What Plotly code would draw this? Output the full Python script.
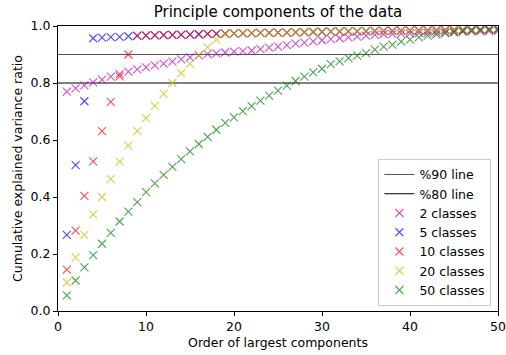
import plotly.graph_objects as go

x_components = list(range(1, 51))

thresholds = [0.9, 0.8]
threshold_names = ["%90 line", "%80 line"]
threshold_colors = ["#555555", "#000000"]

classes_2 = [0.770, 0.781, 0.792, 0.802, 0.812, 0.822, 0.831, 0.840, 0.848, 0.855,
             0.862, 0.868, 0.875, 0.883, 0.890, 0.897, 0.901, 0.904, 0.907, 0.910,
             0.912, 0.914, 0.919, 0.924, 0.928, 0.933, 0.938, 0.942, 0.946, 0.950,
             0.954, 0.957, 0.960, 0.963, 0.966, 0.969, 0.971, 0.972, 0.973, 0.974,
             0.975, 0.976, 0.977, 0.978, 0.979, 0.980, 0.981, 0.981, 0.982, 0.983]

classes_5 = [0.267, 0.512, 0.736, 0.957, 0.959, 0.961, 0.962, 0.964, 0.965, 0.966,
             0.967, 0.968, 0.969, 0.969, 0.970, 0.971, 0.972, 0.972, 0.973, 0.974,
             0.974, 0.975, 0.976, 0.976, 0.977, 0.977, 0.978, 0.978, 0.979, 0.979,
             0.980, 0.980, 0.981, 0.981, 0.982, 0.982, 0.983, 0.983, 0.984, 0.984,
             0.985, 0.985, 0.985, 0.986, 0.986, 0.986, 0.987, 0.987, 0.987, 0.988]

classes_10 = [0.145, 0.282, 0.404, 0.525, 0.631, 0.734, 0.823, 0.900, 0.966, 0.967,
              0.968, 0.968, 0.969, 0.970, 0.970, 0.971, 0.972, 0.973, 0.973, 0.974,
              0.975, 0.975, 0.976, 0.976, 0.977, 0.977, 0.978, 0.979, 0.979, 0.980,
              0.980, 0.981, 0.981, 0.982, 0.982, 0.983, 0.983, 0.984, 0.984, 0.985,
              0.985, 0.985, 0.986, 0.986, 0.986, 0.987, 0.987, 0.987, 0.988, 0.988]

classes_20 = [0.100, 0.188, 0.267, 0.339, 0.400, 0.463, 0.524, 0.580, 0.631, 0.677,
              0.720, 0.762, 0.800, 0.835, 0.868, 0.899, 0.926, 0.952, 0.971, 0.974,
              0.975, 0.975, 0.976, 0.977, 0.977, 0.978, 0.978, 0.979, 0.979, 0.980,
              0.980, 0.981, 0.981, 0.982, 0.982, 0.983, 0.983, 0.984, 0.984, 0.985,
              0.985, 0.986, 0.986, 0.986, 0.987, 0.987, 0.987, 0.988, 0.988, 0.988]

classes_50 = [0.055, 0.107, 0.153, 0.196, 0.236, 0.274, 0.314, 0.349, 0.382, 0.417,
              0.448, 0.478, 0.506, 0.533, 0.560, 0.586, 0.611, 0.636, 0.660, 0.679,
              0.701, 0.719, 0.738, 0.756, 0.773, 0.791, 0.807, 0.822, 0.837, 0.850,
              0.866, 0.876, 0.887, 0.896, 0.905, 0.917, 0.928, 0.935, 0.945, 0.952,
              0.960, 0.966, 0.970, 0.974, 0.978, 0.981, 0.984, 0.987, 0.989, 0.991]

series_names = ["2 classes", "5 classes", "10 classes", "20 classes", "50 classes"]
series_values = [classes_2, classes_5, classes_10, classes_20, classes_50]
series_colors = ["rgba(191,0,191,0.7)", "rgba(0,0,255,0.7)", "rgba(255,0,0,0.7)",
                 "rgba(191,191,0,0.7)", "rgba(0,128,0,0.7)"]

x_range = [0, 50]
x_ticks = [0, 10, 20, 30, 40, 50]
y_ticks = [0.0, 0.2, 0.4, 0.6, 0.8, 1.0]

font = "DejaVu Sans"
fig = go.Figure()

for t, name, col in zip(thresholds, threshold_names, threshold_colors):
    fig.add_trace(go.Scatter(x=x_range, y=[t, t], mode="lines", name=name,
                             line=dict(color=col, width=1)))

for name, vals, col in zip(series_names, series_values, series_colors):
    fig.add_trace(go.Scatter(x=x_components, y=vals, mode="markers", name=name,
                             marker=dict(symbol="x-thin", size=8, color=col,
                                         line=dict(color=col, width=1.1))))

axis_common = dict(showline=True, linecolor="black", linewidth=1, mirror=True,
                   showgrid=False, zeroline=False, ticks="outside", ticklen=4,
                   tickcolor="black", automargin=False,
                   tickfont=dict(family=font, size=12.5, color="black"))

fig.update_layout(
    width=506, height=355,
    margin=dict(l=58, r=8, t=26, b=44),
    paper_bgcolor="white", plot_bgcolor="white",
    title=dict(text="Principle components of the data", x=0.5, xanchor="center",
               xref="paper", y=0.982, yanchor="top", automargin=False,
               font=dict(family=font, size=15, color="black")),
    xaxis=dict(range=x_range, tickvals=x_ticks,
               title=dict(text="Order of largest components", standoff=5,
                          font=dict(family=font, size=12.5, color="black")),
               **axis_common),
    yaxis=dict(range=[0, 1], tickvals=y_ticks, tickformat=".1f",
               title=dict(text="Cumulative explained variance ratio", standoff=5,
                          font=dict(family=font, size=12.5, color="black")),
               **axis_common),
    legend=dict(x=0.985, y=0.018, xanchor="right", yanchor="bottom",
                bgcolor="rgba(255,255,255,0.8)", bordercolor="#cccccc", borderwidth=1,
                font=dict(family=font, size=12.5, color="black"),
                tracegroupgap=0, itemwidth=30),
    showlegend=True,
)

fig.write_html("out.html", config={"displayModeBar": False},
               post_script="document.body.style.margin='0';document.body.style.overflow='hidden';")
